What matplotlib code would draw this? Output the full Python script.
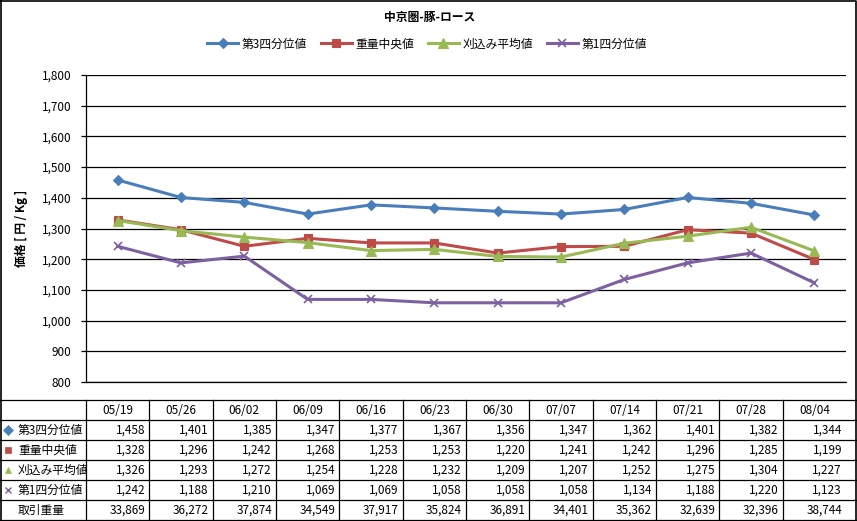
import matplotlib
matplotlib.use('Agg')
import matplotlib.pyplot as plt
from matplotlib.ticker import FuncFormatter, MultipleLocator

plt.rcParams['font.family'] = ['Noto Sans CJK JP', 'DejaVu Sans']

dates = ['05/19', '05/26', '06/02', '06/09', '06/16', '06/23',
         '06/30', '07/07', '07/14', '07/21', '07/28', '08/04']
q3 = [1458, 1401, 1385, 1347, 1377, 1367, 1356, 1347, 1362, 1401, 1382, 1344]
median_w = [1328, 1296, 1242, 1268, 1253, 1253, 1220, 1241, 1242, 1296, 1285, 1199]
trim_mean = [1326, 1293, 1272, 1254, 1228, 1232, 1209, 1207, 1252, 1275, 1304, 1227]
q1 = [1242, 1188, 1210, 1069, 1069, 1058, 1058, 1058, 1134, 1188, 1220, 1123]
volume = [33869, 36272, 37874, 34549, 37917, 35824, 36891, 34401, 35362, 32639, 32396, 38744]

series = [
    ('第3四分位値', q3, '#4A7EBB', 'D', 5),
    ('重量中央値', median_w, '#BE4B48', 's', 6),
    ('刈込み平均値', trim_mean, '#98B954', '^', 7),
    ('第1四分位値', q1, '#7D60A0', 'x', 6),
]

W, H = 857, 521
fig = plt.figure(figsize=(W / 100, H / 100), dpi=100)

# plot area in pixels
L, R, T, B = 86, 846, 75, 382
ax = fig.add_axes([L / W, 1 - B / H, (R - L) / W, (B - T) / H])
x = list(range(len(dates)))
for name, vals, color, mk, ms in series:
    ax.plot(x, vals, color=color, lw=2.2, marker=mk, ms=ms,
            mec=color, mfc=color, mew=1.2 if mk == 'x' else 0.8, label=name)
ax.set_xlim(-0.5, len(dates) - 0.5)
ax.set_ylim(800, 1800)
ax.yaxis.set_major_locator(MultipleLocator(100))
ax.yaxis.set_major_formatter(FuncFormatter(lambda v, p: '{:,.0f}'.format(v)))
ax.grid(axis='y', color='black', lw=0.9)
ax.set_axisbelow(True)
ax.set_xticks([])
for s in ['top', 'right']:
    ax.spines[s].set_visible(False)
ax.spines['left'].set_linewidth(0.9)
ax.spines['bottom'].set_linewidth(0.9)
ax.tick_params(axis='y', length=3.5, width=0.9, labelsize=8.5, pad=7)
ax.set_ylabel('価格 [ 円 / Kg ]', fontsize=8.5, fontweight='bold', labelpad=10)

fig.text(430 / W, 1 - 17 / H, '中京圏-豚-ロース', ha='center', va='center',
         fontsize=8.5, fontweight='bold')
fig.legend(loc='center', bbox_to_anchor=(427 / W, 1 - 44 / H), ncol=4,
           frameon=False, fontsize=8.5, handlelength=2.6, columnspacing=1.2,
           handletextpad=0.3)

# data table below the chart, drawn in pixel coordinates
tx = fig.add_axes([0, 0, 1, 1], zorder=-1)
tx.set_xlim(0, W)
tx.set_ylim(H, 0)
tx.axis('off')
cw = (R - L) / len(dates)
top = 400
rh = 20
nrows = 6
bottom = top + rh * nrows
# horizontal lines
for i in range(nrows + 1):
    tx.plot([0, W], [top + i * rh, top + i * rh], color='black', lw=0.9)
# vertical lines
tx.plot([L, L], [top, bottom], color='black', lw=0.9)
for j in range(1, len(dates)):
    tx.plot([L + j * cw, L + j * cw], [top, bottom], color='black', lw=0.9)
# outer border
tx.plot([0.5, W - 0.5, W - 0.5, 0.5, 0.5], [0.5, 0.5, H - 0.5, H - 0.5, 0.5],
        color='black', lw=1.2)

for j, d in enumerate(dates):
    tx.text(L + (j + 0.5) * cw, top + rh / 2, d, ha='center', va='center',
            fontsize=8.5)

rows = [(name, vals, color, mk) for name, vals, color, mk, ms in series]
rows.append(('取引重量', volume, None, None))
for i, (name, vals, color, mk) in enumerate(rows):
    yc = top + (i + 1.5) * rh
    if mk is not None:
        tx.plot([8], [yc], marker=mk, color=color, ms=5 if mk != 'x' else 4.5,
                mew=1 if mk == 'x' else 0.5, ls='none')
    tx.text(18, yc, name, ha='left', va='center', fontsize=8.5)
    for j, v in enumerate(vals):
        tx.text(L + (j + 1) * cw - 4, yc, '{:,}'.format(v), ha='right',
                va='center', fontsize=8.5)

fig.savefig('out.png', dpi=100)
